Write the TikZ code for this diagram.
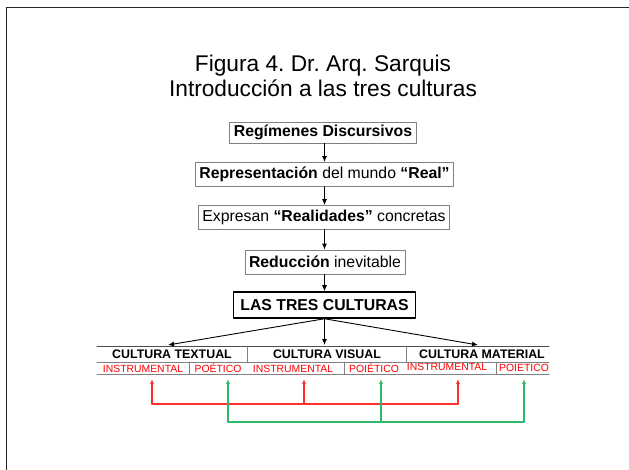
\documentclass[tikz,border=0pt]{standalone}
\usepackage{fontspec}
\setmainfont{Liberation Sans}
\usetikzlibrary{calc, arrows.meta}
\definecolor{rojo}{RGB}{255,45,45}
\definecolor{verde}{RGB}{45,185,105}
\frenchspacing

\begin{document}
\begin{tikzpicture}[x=1pt, y=-1pt, line cap=round, line join=round,
    >={Latex[length=6pt, width=5pt]},
    caja/.style={draw=gray, line width=0.8pt, inner xsep=4pt, inner ysep=0pt,
      minimum height=24pt, font=\fontsize{15.8}{18}\selectfont},
    cel/.style={inner sep=0pt, font=\fontsize{12.4}{13}\selectfont\bfseries},
    sub/.style={inner sep=0pt, text=red, font=\fontsize{10.4}{11}\selectfont},
    flecha/.style={->, line width=0.9pt}]
  \useasboundingbox (0,0) rectangle (629,470);

  % Marco
  \draw[line width=1.6pt, black!85] (629,7.5) -- (6.5,7.5) -- (6.5,470);

  % Titulo
  \node[align=center, font=\fontsize{22.7}{25}\selectfont] (titulo) at (323,76)
    {Figura 4. Dr. Arq. Sarquis\\Introducción a las tres culturas};

  % Cajas
  \node[caja, minimum height=21pt] (reg) at (323,132.5) {\textbf{Regímenes Discursivos}};
  \node[caja] (rep) at (324.5,174.5) {\textbf{Representación} del mundo \textbf{“Real”}};
  \node[caja] (expr) at (324,217.5) {Expresan \textbf{“Realidades”} concretas};
  \node[caja] (redu) at (325,262) {\textbf{Reducción} inevitable};
  \node[caja, draw=black, line width=1.5pt, minimum height=26pt, inner xsep=7pt,
    font=\fontsize{15.8}{18}\selectfont\bfseries] (tres) at (324.5,305) {LAS TRES CULTURAS};

  % Flechas entre cajas
  \foreach \a/\b in {reg/rep, rep/expr, expr/redu, redu/tres}
    \draw[flecha] (\a.south -| tres.south) -- (\b.north -| tres.south);

  % Tabla de culturas
  \node[cel] (ctex) at (172,354.5) {CULTURA TEXTUAL};
  \node[cel] (cvis) at (327,354.5) {CULTURA VISUAL};
  \node[cel] (cmat) at (482,354.5) {CULTURA MATERIAL};
  \node[sub] (ins1) at (143,368.5) {INSTRUMENTAL};
  \node[sub] (poe1) at (218,368.5) {POÉTICO};
  \node[sub] (ins2) at (293,368.5) {INSTRUMENTAL};
  \node[sub] (poe2) at (374,368.5) {POIÉTICO};
  \node[sub] (ins3) at (447,367) {INSTRUMENTAL};
  \node[sub] (poe3) at (524,367) {POIÉTICO};

  \draw[black!70, line width=0.8pt] (97,346) -- (549,346);
  \draw[gray, line width=0.8pt] (97,362) -- (549,362) (97,374) -- (549,374);
  \draw[gray, line width=0.8pt] (247,346) -- (247,362) (406,346) -- (406,362);
  \draw[gray, line width=0.8pt] (189,362) -- (189,374) (344,362) -- (344,374)
    (496,362) -- (496,374);

  % Flechas hacia las culturas
  \coordinate (ftex) at (168,345);
  \coordinate (fvis) at (324.5,345);
  \coordinate (fmat) at (478,345);
  \foreach \c in {ftex, fvis, fmat}
    \draw[flecha] (tres.south) -- (\c);

  % Conexiones instrumental (rojo) y poietico (verde)
  \foreach \n/\x in {1/152, 2/304, 3/458}{
    \coordinate (ri\n) at (\x,379);
    \coordinate (rb\n) at (\x,404);
    \draw[rojo, line width=1.2pt, -{Latex[length=5pt, width=4pt]}] (rb\n) -- (ri\n);
  }
  \draw[rojo, line width=1.2pt] (rb1) -- (rb3);

  \foreach \n/\x in {1/228, 2/381, 3/524}{
    \coordinate (vi\n) at (\x,379);
    \coordinate (vb\n) at (\x,422);
    \draw[verde, line width=1.2pt, -{Latex[length=5pt, width=4pt]}] (vb\n) -- (vi\n);
  }
  \draw[verde, line width=1.2pt] (vb1) -- (vb3);
\end{tikzpicture}
\end{document}
